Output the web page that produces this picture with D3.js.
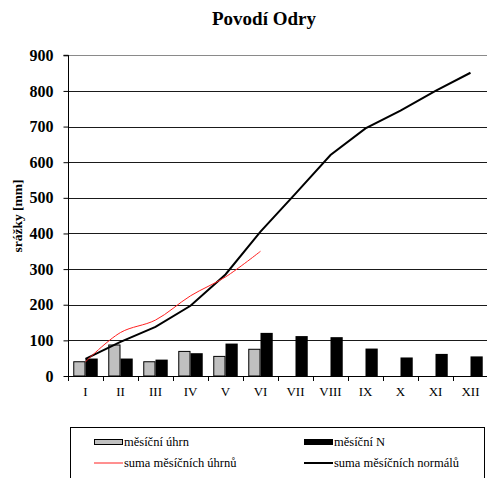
<!DOCTYPE html>
<html>
<head>
<meta charset="utf-8">
<script src="https://cdn.jsdelivr.net/npm/d3@7/dist/d3.min.js"></script>
<style>
  html, body { margin: 0; padding: 0; background: #fff; }
  svg { display: block; }
</style>
</head>
<body>
<svg id="chart" width="487" height="478"></svg>
<script>
// Monthly precipitation, Odra basin
const months = ["I", "II", "III", "IV", "V", "VI", "VII", "VIII", "IX", "X", "XI", "XII"];
const monthlyTotal = [40, 87, 40, 69, 55, 75, null, null, null, null, null, null];   // měsíční úhrn
const monthlyNormal = [49, 49, 46, 64, 91, 121, 112, 109, 77, 52, 62, 55];            // měsíční N
const cumulativeTotal = [40, 122, 157, 225, 278, 350];                                  // suma měsíčních úhrnů
const cumulativeNormal = [48, 96, 138, 197, 285, 405, 512, 620, 695, 745, 800, 851];   // suma měsíčních normálů
const yTicks = [0, 100, 200, 300, 400, 500, 600, 700, 800, 900];

const svg = d3.select("#chart");
const serif = "'Liberation Serif', 'Times New Roman', serif";

const plotLeft = 68, plotRight = 488, plotTop = 55.3, plotBottom = 376;

const x = d3.scaleBand().domain(months).range([plotLeft, plotRight]).padding(0);
const xSub = d3.scaleBand().domain(["total", "normal"]).range([0, x.bandwidth()])
  .paddingInner(0).paddingOuter(0.43);
const y = d3.scaleLinear().domain([0, 900]).range([plotBottom, plotTop]);

// title
svg.append("text")
  .attr("x", 264).attr("y", 25)
  .attr("text-anchor", "middle")
  .attr("font-family", serif).attr("font-weight", "bold").attr("font-size", 19)
  .text("Povodí Odry");

// horizontal gridlines
svg.append("g").selectAll("line")
  .data(yTicks.filter(d => d > 0))
  .join("line")
  .attr("x1", plotLeft).attr("x2", plotRight)
  .attr("y1", d => Math.round(y(d)) + 0.5).attr("y2", d => Math.round(y(d)) + 0.5)
  .attr("stroke", d => d === 900 ? "#8a8a8a" : "#1a1a1a")
  .attr("stroke-width", 1);

// y axis
const yAxis = d3.axisLeft(y).tickValues(yTicks).tickSize(5).tickPadding(10);
const gy = svg.append("g").attr("transform", `translate(${plotLeft + 0.5},0)`).call(yAxis);
gy.select(".domain").attr("stroke", "#000").attr("d", `M-5,${y(900)}H0V${y(0)}`);
gy.selectAll(".tick line").attr("stroke", "#000");
gy.selectAll(".tick text")
  .attr("font-family", serif).attr("font-weight", "bold").attr("font-size", 16)
  .attr("fill", "#000");

// y axis title
svg.append("text")
  .attr("transform", `translate(22,216) rotate(-90)`)
  .attr("text-anchor", "middle")
  .attr("font-family", serif).attr("font-weight", "bold").attr("font-size", 13.5)
  .text("srážky [mm]");

// bars
const gBars = svg.append("g");
gBars.selectAll("rect.total")
  .data(months.map((m, i) => ({ m, v: monthlyTotal[i] })).filter(d => d.v != null))
  .join("rect")
  .attr("class", "total")
  .attr("x", d => x(d.m) + xSub("total") + 0.5)
  .attr("y", d => y(d.v))
  .attr("width", xSub.bandwidth() - 1)
  .attr("height", d => y(0) - y(d.v))
  .attr("fill", "#c0c0c0").attr("stroke", "#000").attr("stroke-width", 1);

gBars.selectAll("rect.normal")
  .data(months.map((m, i) => ({ m, v: monthlyNormal[i] })))
  .join("rect")
  .attr("class", "normal")
  .attr("x", d => x(d.m) + xSub("normal"))
  .attr("y", d => y(d.v))
  .attr("width", xSub.bandwidth())
  .attr("height", d => y(0) - y(d.v))
  .attr("fill", "#000");

// x axis
const xAxisLine = svg.append("g");
xAxisLine.append("line")
  .attr("x1", plotLeft).attr("x2", plotRight)
  .attr("y1", plotBottom + 0.5).attr("y2", plotBottom + 0.5)
  .attr("stroke", "#000");
xAxisLine.selectAll("line.tick")
  .data(months.concat(["end"]))
  .join("line")
  .attr("class", "tick")
  .attr("x1", (d, i) => Math.round(i < months.length ? x(d) : plotRight) + 0.5)
  .attr("x2", (d, i) => Math.round(i < months.length ? x(d) : plotRight) + 0.5)
  .attr("y1", plotBottom).attr("y2", plotBottom + 5)
  .attr("stroke", "#000");
xAxisLine.selectAll("text")
  .data(months)
  .join("text")
  .attr("x", d => x(d) + x.bandwidth() / 2)
  .attr("y", 396)
  .attr("text-anchor", "middle")
  .attr("font-family", serif).attr("font-size", 13)
  .text(d => d);

// cumulative lines
const cx = (d, i) => x(months[i]) + x.bandwidth() / 2;
svg.append("path")
  .datum(cumulativeNormal)
  .attr("fill", "none").attr("stroke", "#000").attr("stroke-width", 2)
  .attr("d", d3.line().x(cx).y(d => y(d)));
svg.append("path")
  .datum(cumulativeTotal)
  .attr("fill", "none").attr("stroke", "#ff2020").attr("stroke-width", 1)
  .attr("d", d3.line().x(cx).y(d => y(d)).curve(d3.curveCatmullRom.alpha(0.5)));

// legend
const lg = svg.append("g");
lg.append("rect")
  .attr("x", 70.5).attr("y", 427.5).attr("width", 414).attr("height", 60)
  .attr("fill", "#fff").attr("stroke", "#000");
const items = [
  { label: "měsíční úhrn", type: "bar", fill: "#c0c0c0", x: 94, y: 442 },
  { label: "měsíční N", type: "bar", fill: "#000", x: 304, y: 442 },
  { label: "suma měsíčních úhrnů", type: "line", stroke: "#ff2020", w: 1, x: 94, y: 463 },
  { label: "suma měsíčních normálů", type: "line", stroke: "#000", w: 2, x: 304, y: 463 }
];
items.forEach(it => {
  if (it.type === "bar") {
    lg.append("rect")
      .attr("x", it.x + 0.5).attr("y", it.y - 2.5).attr("width", 28).attr("height", 5)
      .attr("fill", it.fill).attr("stroke", "#000").attr("stroke-width", 1);
  } else {
    lg.append("line")
      .attr("x1", it.x).attr("x2", it.x + 29).attr("y1", it.y).attr("y2", it.y)
      .attr("stroke", it.stroke).attr("stroke-width", it.w);
  }
  lg.append("text")
    .attr("x", it.x + 30).attr("y", it.y + 4)
    .attr("font-family", serif).attr("font-size", 12.5)
    .text(it.label);
});
</script>
</body>
</html>
